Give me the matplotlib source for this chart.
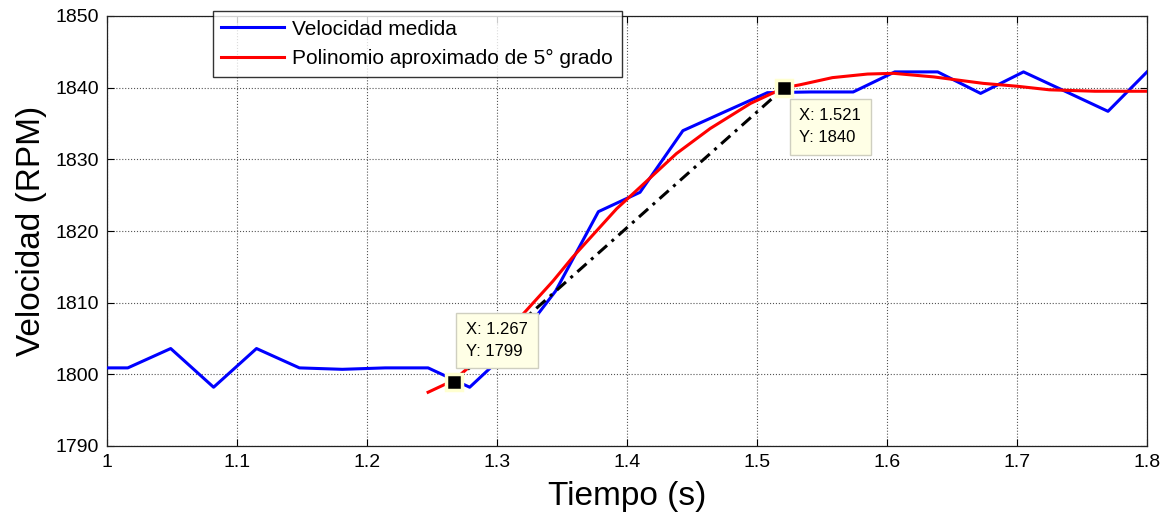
import matplotlib
matplotlib.use("Agg")
import matplotlib.pyplot as plt
from matplotlib.transforms import offset_copy

plt.rcParams['font.family'] = ['Liberation Sans', 'DejaVu Sans']

# Measured speed (blue)
t_medida = [1.000, 1.016, 1.049, 1.082, 1.115, 1.148, 1.181, 1.214, 1.247,
            1.279, 1.312, 1.345, 1.378, 1.410, 1.443, 1.476, 1.508, 1.541,
            1.574, 1.606, 1.639, 1.672, 1.705, 1.737, 1.770, 1.800]
v_medida = [1800.9, 1800.9, 1803.6, 1798.2, 1803.6, 1800.9, 1800.7, 1800.9, 1800.9,
            1798.2, 1803.8, 1811.6, 1822.7, 1825.4, 1834.0, 1836.7, 1839.3, 1839.4,
            1839.4, 1842.2, 1842.2, 1839.2, 1842.2, 1839.5, 1836.7, 1842.2]

# 5th degree polynomial approximation (red)
t_poli = [1.247, 1.267, 1.300, 1.323, 1.343, 1.358, 1.377, 1.392, 1.410, 1.438,
          1.464, 1.495, 1.521, 1.533, 1.558, 1.585, 1.605, 1.636, 1.674, 1.700,
          1.725, 1.760, 1.800]
v_poli = [1797.5, 1799.2, 1804.4, 1809.0, 1813.0, 1816.3, 1820.1, 1823.1, 1826.1, 1830.8,
          1834.3, 1837.8, 1840.0, 1840.4, 1841.4, 1841.9, 1842.0, 1841.5, 1840.6, 1840.2,
          1839.7, 1839.5, 1839.5]

# Data tips
tip_x = [1.267, 1.521]
tip_y = [1799, 1840]
tip_labels = ["X: 1.267\nY: 1799", "X: 1.521\nY: 1840"]

x_ticks = [1.0, 1.1, 1.2, 1.3, 1.4, 1.5, 1.6, 1.7, 1.8]
x_ticklabels = ["1", "1.1", "1.2", "1.3", "1.4", "1.5", "1.6", "1.7", "1.8"]
y_ticks = [1790, 1800, 1810, 1820, 1830, 1840, 1850]

fig = plt.figure(figsize=(11.65, 5.15), dpi=100)
ax = fig.add_axes([107/1165, 1-446/515, 1040/1165, 430/515])

ax.plot(t_medida, v_medida, color='#0000FF', lw=2.2, label='Velocidad medida', zorder=3)
ax.plot(t_poli, v_poli, color='#FF0000', lw=2.2, label='Polinomio aproximado de 5° grado', zorder=4)
ax.plot(tip_x, tip_y, color='black', lw=2.2, linestyle=(0, (4, 2, 1, 2)), zorder=5)

ax.set_xlim(1.0, 1.8)
ax.set_ylim(1790, 1850)
ax.set_xticks(x_ticks)
ax.set_xticklabels(x_ticklabels)
ax.set_yticks(y_ticks)
ax.tick_params(direction='in', top=True, right=True, length=5, width=0.8,
               labelsize=14, pad=6)
ax.grid(True, linestyle=':', color='#555555', lw=0.8)
for s in ax.spines.values():
    s.set_linewidth(0.9)
    s.set_color('#222222')

ax.set_xlabel('Tiempo (s)', fontsize=24, labelpad=7)
ax.set_ylabel('Velocidad (RPM)', fontsize=24, labelpad=6)

# Data tip markers
ax.plot(tip_x, tip_y, linestyle='none', marker='s', ms=11, mfc='black',
        mec='#FFFFD0', mew=2.5, zorder=7, clip_on=False)

# Data tip boxes
offsets = [(12, 41), (15, -39)]
for (x, y), lab, (dx, dy) in zip(zip(tip_x, tip_y), tip_labels, offsets):
    tr = offset_copy(ax.transData, fig=fig, x=dx, y=dy, units='dots')
    ax.text(x, y, lab, transform=tr, fontsize=12, ha='left', va='center',
            linespacing=1.55, zorder=8,
            bbox=dict(boxstyle='square,pad=0.58', facecolor='#FFFFE6',
                      edgecolor='#CFCFC0', lw=1))

leg = ax.legend(loc='upper left', bbox_to_anchor=(0.1015, 1.0116),
                fontsize=15, frameon=True, fancybox=False, handlelength=3.0,
                handletextpad=0.4, borderaxespad=0, labelspacing=0.5,
                borderpad=0.42)
leg.get_frame().set_edgecolor('black')
leg.get_frame().set_linewidth(1.0)
leg.set_zorder(10)

fig.savefig('out.png', dpi=100)
